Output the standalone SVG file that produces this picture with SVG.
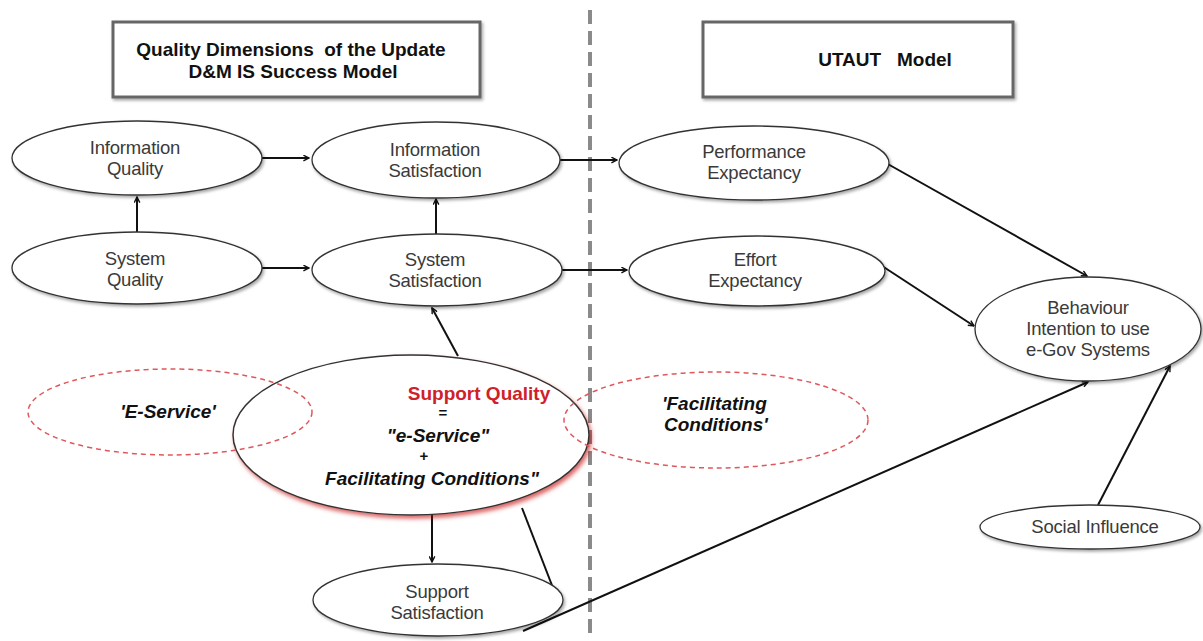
<svg xmlns="http://www.w3.org/2000/svg" width="1203" height="641" viewBox="0 0 1203 641">
<style>
.node{fill:#fff;stroke:#333;stroke-width:1.3;filter:url(#sh)}
.lbl{font-family:"Liberation Sans",Arial,sans-serif;font-size:18.5px;letter-spacing:-0.2px;fill:#3a3a3a;text-anchor:middle}
.hdr{font-family:"Liberation Sans",Arial,sans-serif;font-size:19px;font-weight:bold;fill:#111;text-anchor:middle;white-space:pre}
.sym{font-family:"Liberation Sans",Arial,sans-serif;font-size:15px;font-weight:bold;fill:#111;text-anchor:middle}
.bi{font-family:"Liberation Sans",Arial,sans-serif;font-size:19px;font-weight:bold;font-style:italic;fill:#111}
.box{fill:#fff;stroke:#666;stroke-width:3;filter:url(#sh)}
.dash{fill:none;stroke:#e0575b;stroke-width:1.5;stroke-dasharray:5 4}
.con{stroke:#111;stroke-width:2;fill:none}
.arr{marker-end:url(#ah)}
</style>
<defs>
<marker id="ah" viewBox="0 0 10 10" refX="9" refY="5" markerWidth="7" markerHeight="7" orient="auto" markerUnits="userSpaceOnUse">
<path d="M1,1 L9,5 L1,9" fill="none" stroke="#111" stroke-width="2"/>
</marker>
<filter id="sh" x="-10%" y="-10%" width="125%" height="130%">
<feDropShadow dx="1.5" dy="2" stdDeviation="1.5" flood-color="#000" flood-opacity="0.35"/>
</filter>
<filter id="rsh" x="-10%" y="-10%" width="125%" height="130%">
<feDropShadow dx="2" dy="3" stdDeviation="2" flood-color="#c00000" flood-opacity="0.6"/>
</filter>
</defs>
<rect width="1203" height="641" fill="#fff"/>
<line x1="590" y1="10" x2="590" y2="638" stroke="#8a8a8a" stroke-width="4" stroke-dasharray="14 7"/>

<g id="hdr-dm"><rect class="box" x="113" y="22" width="367" height="75"/>
<text class="hdr" x="291" y="56">Quality Dimensions  of the Update</text>
<text class="hdr" x="293" y="78">D&amp;M IS Success Model</text></g>
<g id="hdr-utaut"><rect class="box" x="703" y="22" width="310" height="75"/>
<text class="hdr" x="885" y="66">UTAUT   Model</text></g>

<g id="connectors">
<line class="con arr" x1="262" y1="158" x2="309" y2="158"/>
<line class="con arr" x1="137" y1="233" x2="137" y2="197"/>
<line class="con arr" x1="262" y1="268" x2="309" y2="268"/>
<line class="con arr" x1="436" y1="235" x2="436" y2="199"/>
<line class="con arr" x1="560" y1="160" x2="617" y2="160"/>
<line class="con arr" x1="562" y1="270" x2="627" y2="270"/>
<line class="con arr" x1="886" y1="163" x2="1087" y2="276"/>
<line class="con arr" x1="876" y1="262" x2="974" y2="326"/>
<line class="con arr" x1="458" y1="356" x2="432" y2="308"/>
<line class="con arr" x1="432" y1="515" x2="432" y2="562"/>
<line class="con" x1="522" y1="508" x2="560" y2="606"/>
<line class="con arr" x1="523" y1="631" x2="1088" y2="382"/>
<line class="con arr" x1="1098" y1="505" x2="1170" y2="366"/>
</g>

<g id="information-quality"><ellipse class="node" cx="137" cy="158" rx="125" ry="37"/>
<text class="lbl" x="135" y="154">Information</text><text class="lbl" x="135" y="175">Quality</text></g>
<g id="information-satisfaction"><ellipse class="node" cx="436" cy="160" rx="124" ry="38"/>
<text class="lbl" x="435" y="156">Information</text><text class="lbl" x="435" y="177">Satisfaction</text></g>
<g id="system-quality"><ellipse class="node" cx="137" cy="268" rx="125" ry="36"/>
<text class="lbl" x="135" y="265">System</text><text class="lbl" x="135" y="286">Quality</text></g>
<g id="system-satisfaction"><ellipse class="node" cx="437" cy="270" rx="125" ry="36"/>
<text class="lbl" x="435" y="266">System</text><text class="lbl" x="435" y="287">Satisfaction</text></g>
<g id="performance-expectancy"><ellipse class="node" cx="754" cy="163" rx="135" ry="37"/>
<text class="lbl" x="754" y="158">Performance</text><text class="lbl" x="754" y="179">Expectancy</text></g>
<g id="effort-expectancy"><ellipse class="node" cx="757" cy="271" rx="128" ry="35"/>
<text class="lbl" x="755" y="266">Effort</text><text class="lbl" x="755" y="287">Expectancy</text></g>
<g id="behaviour-intention"><ellipse class="node" cx="1088" cy="329" rx="113" ry="52"/>
<text class="lbl" x="1088" y="314">Behaviour</text><text class="lbl" x="1088" y="335">Intention to use</text><text class="lbl" x="1088" y="356">e-Gov Systems</text></g>
<g id="social-influence"><ellipse class="node" cx="1090" cy="527" rx="110" ry="22"/>
<text class="lbl" x="1095" y="533">Social Influence</text></g>
<g id="support-satisfaction"><ellipse class="node" cx="438" cy="600" rx="125" ry="36"/>
<text class="lbl" x="437" y="598">Support</text><text class="lbl" x="437" y="619">Satisfaction</text></g>

<g id="support-quality"><ellipse cx="411" cy="435" rx="178" ry="80" fill="#fff" stroke="#333" stroke-width="1.5" filter="url(#rsh)"/></g>
<g id="e-service"><ellipse class="dash" cx="170" cy="412" rx="142" ry="43"/>
<text class="bi" x="168" y="418" text-anchor="middle">'E-Service'</text></g>
<g id="facilitating-conditions"><ellipse class="dash" cx="716" cy="420" rx="152" ry="48"/>
<text class="bi" x="662" y="410">'Facilitating</text><text class="bi" x="664" y="431">Conditions'</text></g>
<g id="support-quality-text">
<text x="479" y="400" style="font-family:'Liberation Sans',Arial,sans-serif;font-size:19px;font-weight:bold;fill:#d0202a;text-anchor:middle">Support Quality</text>
<text class="sym" x="443" y="418">=</text>
<text class="bi" x="438" y="442" text-anchor="middle">"e-Service"</text>
<text class="sym" x="424" y="461">+</text>
<text class="bi" x="432" y="485" text-anchor="middle">Facilitating Conditions"</text>
</g>
</svg>
